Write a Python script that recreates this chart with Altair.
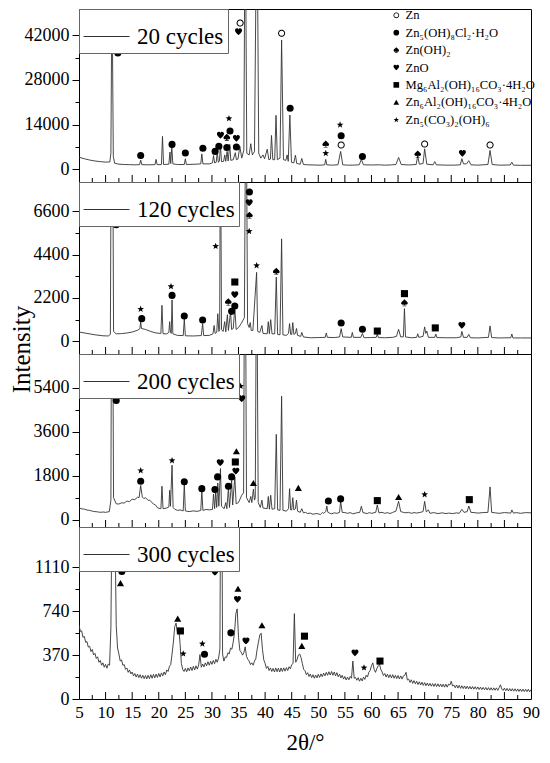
import math
import altair as alt
import pandas as pd

FONT = "Liberation Serif"
LINE = "#333333"

# ---------------- data ----------------
CYCLES = ["20 cycles", "120 cycles", "200 cycles", "300 cycles"]
PHASE_CODES = ["Zn", "S", "H", "O", "Mg", "ZA", "C"]
PHASE_NAMES = ["Zn", "Zn₅(OH)₈Cl₂·H₂O", "Zn(OH)₂", "ZnO",
               "Mg₆Al₂(OH)₁₆CO₃·4H₂O", "Zn₆Al₂(OH)₁₆CO₃·4H₂O", "Zn₅(CO₃)₂(OH)₆"]

Y_DOMAINS = [[-3980, 50200], [-645, 8088], [-299, 6777], [0, 1451]]
Y_STEPS = [14000, 2200, 1800, 370]
Y_TICKS = [
    [0, 7000, 14000, 21000, 28000, 35000, 42000],
    [0, 1100, 2200, 3300, 4400, 5500, 6600],
    [0, 900, 1800, 2700, 3600, 4500, 5400],
    [0, 185, 370, 555, 740, 925, 1110],
]
X_LABELS = [5, 10, 15, 20, 25, 30, 35, 40, 45, 50, 55, 60, 65, 70, 75, 80, 85, 90]
X_MAJOR = [10, 15, 20, 25, 30, 35, 40, 45, 50, 55, 60, 65, 70, 75, 80, 85]
X_MINOR = [7.5, 12.5, 17.5, 22.5, 27.5, 32.5, 37.5, 42.5, 47.5, 52.5, 57.5,
           62.5, 67.5, 72.5, 77.5, 82.5, 87.5]

P20 = [(5.0, 3800), (6.0, 3300), (7.0, 2900), (8.0, 2600), (9.0, 2400), (10.0, 2250),
       (10.8, 2300), (11.0, 5000), (11.2, 60000), (11.45, 4000), (11.7, 1900), (12.5, 1600),
       (13.5, 1500), (14.5, 1450), (15.5, 1400), (16.4, 1450), (16.6, 2900), (16.8, 1450),
       (18.0, 1400), (19.3, 1450), (19.5, 3100), (19.7, 1450), (20.5, 1500), (20.7, 10300),
       (20.9, 1500), (21.9, 1600), (22.1, 5400), (22.25, 1800), (22.45, 7000), (22.65, 1700),
       (23.5, 1500), (24.8, 1500), (25.0, 3300), (25.2, 1500), (27.0, 1600), (27.9, 1700),
       (28.1, 4800), (28.3, 1700), (29.5, 1700), (30.1, 2000), (30.3, 4300), (30.5, 2000),
       (30.8, 2200), (31.0, 5400), (31.2, 2200), (31.4, 2500), (31.6, 7600), (31.8, 2400),
       (32.2, 2500), (32.4, 4500), (32.6, 2500), (32.85, 5600), (33.05, 2600), (33.35, 7800),
       (33.55, 2800), (34.0, 3000), (34.4, 5200), (34.6, 3000), (34.9, 3200), (35.25, 7200),
       (35.6, 3500), (36.0, 6000), (36.25, 90000), (36.55, 5000), (37.0, 4500), (37.3, 8000),
       (37.6, 4500), (38.0, 5500), (38.45, 90000), (38.8, 5000), (39.2, 3500), (39.6, 4500),
       (39.9, 3300), (40.4, 6300), (40.7, 3000), (41.0, 3200), (41.2, 10600), (41.45, 3000),
       (41.8, 3000), (42.05, 16900), (42.3, 3000), (42.8, 3500), (43.1, 40500), (43.45, 3000),
       (43.9, 2800), (44.15, 4500), (44.35, 2500), (44.65, 17000), (44.95, 2200), (45.4, 2000),
       (45.7, 4400), (45.95, 1800), (46.6, 1600), (46.9, 3400), (47.2, 1500), (48.0, 1400),
       (49.0, 1350), (50.5, 1300), (51.2, 1400), (51.4, 3100), (51.6, 1400), (52.5, 1300),
       (53.7, 1400), (54.2, 5600), (54.6, 1400), (55.5, 1300), (56.5, 1300), (57.7, 1400),
       (58.1, 3100), (58.5, 1400), (60.0, 1350), (61.5, 1400), (62.5, 1300), (63.5, 1350),
       (64.6, 1500), (65.1, 3700), (65.6, 1500), (67.0, 1350), (68.4, 1500), (68.7, 4100),
       (69.0, 1600), (69.7, 1800), (70.0, 6400), (70.4, 1600), (71.6, 1400), (71.9, 2400),
       (72.2, 1400), (74.0, 1300), (75.5, 1300), (76.7, 1400), (77.0, 3300), (77.3, 1700),
       (77.9, 1700), (78.3, 2700), (78.7, 1400), (80.0, 1300), (81.9, 1500), (82.3, 5900),
       (82.7, 1500), (84.0, 1300), (86.1, 1350), (86.4, 2200), (86.7, 1300), (88.0, 1250),
       (90.0, 1250)]

P120 = [(5.0, 470), (6.5, 400), (8.0, 330), (9.5, 280), (10.5, 270), (10.9, 350), (11.2, 20000),
        (11.5, 500), (12.0, 380), (13.0, 390), (14.0, 420), (15.0, 470), (16.0, 560), (16.45, 640),
        (16.6, 980), (16.75, 650), (17.5, 600), (18.5, 500), (19.5, 420), (20.4, 400), (20.6, 1830),
        (20.8, 380), (21.5, 380), (21.9, 450), (22.05, 1000), (22.2, 450), (22.35, 400), (22.5, 2100),
        (22.65, 380), (23.5, 300), (24.6, 290), (24.8, 1130), (25.0, 280), (26.5, 270), (28.0, 290),
        (28.25, 900), (28.45, 290), (29.5, 300), (30.2, 380), (30.4, 800), (30.6, 400), (30.9, 450),
        (31.1, 1400), (31.3, 500), (31.45, 600), (31.6, 12000), (31.8, 600), (32.1, 500), (32.4, 1000),
        (32.6, 480), (32.9, 1350), (33.1, 550), (33.5, 1500), (33.7, 600), (34.0, 650), (34.3, 1700),
        (34.55, 600), (35.0, 700), (35.5, 900), (36.1, 1200), (36.4, 15000), (36.7, 900), (37.0, 700),
        (37.2, 950), (37.4, 550), (37.7, 550), (38.4, 3500), (38.6, 500), (39.0, 450), (39.4, 800),
        (39.6, 400), (40.4, 380), (40.6, 1000), (40.8, 380), (41.05, 1100), (41.3, 380), (41.8, 380),
        (42.1, 3260), (42.35, 350), (42.8, 330), (43.1, 5200), (43.35, 330), (44.0, 300), (44.4, 400),
        (44.6, 900), (44.8, 350), (45.0, 350), (45.2, 950), (45.4, 350), (45.7, 400), (45.9, 650),
        (46.1, 300), (46.7, 250), (46.9, 450), (47.2, 220), (48.5, 180), (50.0, 190), (51.3, 200),
        (51.5, 420), (51.7, 200), (53.0, 190), (54.0, 220), (54.3, 640), (54.6, 220), (56.2, 200),
        (56.4, 450), (56.6, 200), (58.0, 200), (58.3, 400), (58.6, 180), (59.8, 190), (60.9, 200),
        (61.1, 380), (61.3, 190), (62.5, 180), (64.0, 200), (64.7, 250), (65.1, 610), (65.5, 220),
        (66.0, 230), (66.2, 1660), (66.4, 220), (67.5, 180), (68.5, 200), (68.7, 380), (68.9, 200),
        (69.7, 250), (70.0, 730), (70.2, 400), (70.4, 520), (70.7, 200), (71.9, 200), (72.1, 370),
        (72.3, 190), (74.0, 180), (76.0, 180), (76.8, 220), (77.0, 500), (77.3, 200), (78.0, 200),
        (78.3, 350), (78.6, 180), (80.0, 170), (82.0, 200), (82.3, 780), (82.6, 190), (84.0, 170),
        (86.2, 180), (86.4, 370), (86.6, 170), (88.0, 170), (90.0, 170)]

P200 = [(5.0, 480), (5.6, 440), (6.0, 430), (6.5, 395), (7.0, 380), (7.5, 350), (8.0, 330),
        (8.5, 320), (9.0, 300), (9.5, 315), (10.0, 300), (10.7, 330),
        (11.0, 800), (11.2, 15000), (11.5, 900), (12.0, 650), (12.5, 640), (13.0, 690), (13.5, 680),
        (14.0, 760), (14.5, 740), (15.0, 840), (15.5, 820), (16.0, 920), (16.3, 900), (16.6, 1400),
        (16.9, 930), (17.2, 860), (17.5, 900), (18.0, 790), (18.3, 800), (19.0, 640),
        (19.4, 600), (19.8, 480), (20.4, 450), (20.6, 1370), (20.8, 450), (21.5, 480), (21.9, 520),
        (22.05, 1200), (22.2, 550), (22.5, 2230), (22.7, 500), (23.0, 430), (23.5, 380), (24.0, 400),
        (24.6, 360), (24.8, 1470), (25.0, 360), (25.7, 330), (26.5, 360), (27.2, 340), (27.9, 380),
        (28.1, 1200), (28.3, 380), (28.9, 420), (29.5, 400), (30.1, 420), (30.3, 1050),
        (30.5, 450), (30.7, 1100), (30.9, 500), (31.1, 1500), (31.3, 550), (31.6, 2090), (31.8, 550),
        (32.3, 450), (32.6, 700), (32.8, 450), (33.1, 1300), (33.3, 500), (33.7, 1600), (33.9, 600),
        (34.3, 1750), (34.55, 650), (35.0, 700), (35.6, 1000), (35.95, 1100), (36.2, 15000),
        (36.5, 900), (37.0, 700), (37.3, 950), (37.5, 700), (37.8, 1250), (38.0, 800), (38.15, 900),
        (38.4, 12000), (38.7, 700), (39.1, 500), (39.4, 800), (39.6, 480), (40.4, 450), (40.6, 950),
        (40.8, 430), (41.05, 1000), (41.3, 430), (41.8, 450), (42.1, 3490), (42.35, 400), (42.8, 380),
        (43.1, 5050), (43.35, 380), (44.0, 350), (44.4, 450), (44.6, 1270), (44.8, 400), (45.0, 400),
        (45.2, 900), (45.4, 400), (45.7, 450), (45.9, 800), (46.1, 350), (46.6, 300), (46.9, 450),
        (47.2, 280), (47.6, 300), (48.0, 250), (48.5, 270), (49.0, 220), (49.5, 250), (50.0, 240),
        (50.4, 210), (50.8, 300), (51.0, 260), (51.4, 330), (51.6, 560), (51.8, 300), (52.1, 270),
        (52.5, 240), (53.0, 280), (53.5, 260), (54.0, 300), (54.2, 750), (54.5, 300),
        (55.0, 290), (55.5, 260), (56.0, 290), (56.5, 240), (57.2, 280), (57.8, 300), (58.1, 550),
        (58.4, 290), (58.8, 270), (59.2, 250), (59.6, 290), (60.0, 260),
        (60.8, 300), (61.1, 600), (61.4, 280), (62.0, 300), (62.5, 260), (63.0, 290), (63.5, 250),
        (64.0, 300), (64.6, 350), (65.1, 750), (65.5, 330), (66.0, 300), (66.5, 280), (67.0, 300),
        (67.5, 260), (68.0, 290), (68.5, 270), (69.2, 300), (69.7, 330), (70.0, 750), (70.3, 320),
        (70.7, 400), (71.0, 260), (71.7, 290), (72.5, 250), (73.3, 280), (74.0, 250), (74.5, 270),
        (75.3, 250), (76.0, 280), (76.5, 260), (77.0, 420), (77.4, 300),
        (78.0, 330), (78.3, 560), (78.7, 300), (79.3, 290), (80.0, 270), (81.0, 290), (81.9, 300),
        (82.3, 1340), (82.6, 300), (83.3, 280), (84.0, 260), (85.0, 290), (86.2, 270), (86.4, 400),
        (86.7, 270), (87.3, 290), (88.0, 260), (89.0, 290), (90.0, 280)]

P300 = [(5.00, 625), (5.25, 570), (5.50, 575), (5.75, 520), (6.00, 528), (6.25, 478), (6.50, 485),
        (6.75, 438), (7.00, 445), (7.25, 400), (7.50, 418), (7.75, 372), (8.00, 385), (8.25, 342),
        (8.50, 356), (8.75, 310), (9.00, 325), (9.25, 285), (9.50, 305), (9.75, 268), (10.00, 292),
        (10.25, 260), (10.50, 295), (10.75, 285), (11.00, 600), (11.25, 1800), (11.50, 3500),
        (11.75, 1500), (12.00, 620), (12.25, 430), (12.50, 380), (12.75, 320), (13.00, 330),
        (13.25, 285), (13.50, 290), (13.75, 250), (14.00, 262), (14.25, 225), (14.50, 245),
        (14.75, 212), (15.00, 228), (15.25, 195), (15.50, 215), (15.75, 185), (16.00, 210),
        (16.25, 180), (16.50, 205), (16.75, 175), (17.00, 200), (17.25, 172), (17.50, 198),
        (17.75, 170), (18.00, 200), (18.25, 172), (18.50, 205), (18.75, 175), (19.00, 208),
        (19.25, 178), (19.50, 210), (19.75, 182), (20.00, 215), (20.25, 186), (20.50, 220),
        (20.75, 195), (21.00, 228), (21.25, 205), (21.50, 245), (21.75, 232), (22.00, 275),
        (22.25, 290), (22.50, 380), (22.75, 480), (23.00, 610), (23.25, 640), (23.50, 560),
        (23.75, 600), (24.00, 470), (24.25, 300), (24.50, 250), (24.75, 232), (25.00, 258),
        (25.25, 230), (25.50, 262), (25.75, 238), (26.00, 270), (26.25, 240), (26.50, 275),
        (26.75, 245), (27.00, 280), (27.25, 252), (27.50, 285), (27.75, 375), (28.00, 268),
        (28.25, 295), (28.50, 270), (28.75, 305), (29.00, 280), (29.25, 315), (29.50, 285),
        (29.75, 318), (30.00, 292), (30.25, 325), (30.50, 298), (30.75, 335), (31.00, 310),
        (31.25, 345), (31.50, 420), (31.75, 3000), (32.00, 380), (32.25, 320), (32.50, 355),
        (32.75, 350), (33.00, 390), (33.25, 380), (33.50, 430), (33.75, 420), (34.00, 480),
        (34.25, 560), (34.50, 720), (34.75, 760), (35.00, 520), (35.25, 410), (35.50, 395),
        (35.75, 370), (36.00, 390), (36.25, 440), (36.50, 360), (36.75, 335), (37.00, 320),
        (37.25, 290), (37.50, 305), (37.75, 285), (38.00, 320), (38.25, 340), (38.50, 420),
        (38.75, 480), (39.00, 540), (39.25, 555), (39.50, 420), (39.75, 330), (40.00, 300),
        (40.25, 258), (40.50, 275), (40.75, 240), (41.00, 262), (41.25, 232), (41.50, 258),
        (41.75, 228), (42.00, 262), (42.25, 230), (42.50, 260), (42.75, 228), (43.00, 262),
        (43.25, 232), (43.50, 262), (43.75, 235), (44.00, 265), (44.25, 240), (44.50, 272),
        (44.75, 255), (45.00, 290), (45.25, 300), (45.50, 720), (45.75, 310), (46.00, 330),
        (46.25, 370), (46.50, 380), (46.75, 350), (47.00, 300), (47.25, 250), (47.50, 238),
        (47.75, 205), (48.00, 222), (48.25, 190), (48.50, 210), (48.75, 180), (49.00, 205),
        (49.25, 175), (49.50, 202), (49.75, 178), (50.00, 208), (50.25, 182), (50.50, 212),
        (50.75, 188), (51.00, 218), (51.25, 195), (51.50, 225), (51.75, 200), (52.00, 230),
        (52.25, 202), (52.50, 232), (52.75, 200), (53.00, 228), (53.25, 195), (53.50, 222),
        (53.75, 188), (54.00, 210), (54.25, 178), (54.50, 200), (54.75, 168), (55.00, 190),
        (55.25, 160), (55.50, 185), (55.75, 162), (56.00, 190), (56.25, 175), (56.50, 320),
        (56.75, 175), (57.00, 182), (57.25, 158), (57.50, 180), (57.75, 150), (58.00, 175),
        (58.25, 152), (58.50, 185), (58.75, 165), (59.00, 200), (59.25, 185), (59.50, 225),
        (59.75, 240), (60.00, 280), (60.25, 305), (60.50, 250), (60.75, 225), (61.00, 255),
        (61.25, 280), (61.50, 295), (61.75, 250), (62.00, 228), (62.25, 198), (62.50, 215),
        (62.75, 185), (63.00, 210), (63.25, 180), (63.50, 205), (63.75, 178), (64.00, 205),
        (64.25, 175), (64.50, 200), (64.75, 172), (65.00, 198), (65.25, 170), (65.50, 195),
        (65.75, 168), (66.00, 195), (66.25, 200), (66.50, 225), (66.75, 160), (67.00, 168),
        (67.25, 140), (67.50, 162), (67.75, 132), (68.00, 155), (68.25, 128), (68.50, 150),
        (68.75, 122), (69.00, 145), (69.25, 118), (69.50, 142), (69.75, 115), (70.00, 138),
        (70.25, 112), (70.50, 135), (70.75, 110), (71.00, 132), (71.25, 108), (71.50, 130),
        (71.75, 106), (72.00, 130), (72.25, 105), (72.50, 128), (72.75, 104), (73.00, 126),
        (73.25, 102), (73.50, 125), (73.75, 100), (74.00, 125), (74.25, 100), (74.50, 125),
        (74.75, 118), (75.00, 150), (75.25, 110), (75.50, 118), (75.75, 95), (76.00, 118),
        (76.25, 92), (76.50, 115), (76.75, 90), (77.00, 112), (77.25, 88), (77.50, 110),
        (77.75, 86), (78.00, 108), (78.25, 85), (78.50, 106), (78.75, 84), (79.00, 105),
        (79.25, 83), (79.50, 104), (79.75, 82), (80.00, 102), (80.25, 80), (80.50, 100),
        (80.75, 79), (81.00, 98), (81.25, 78), (81.50, 97), (81.75, 76), (82.00, 96),
        (82.25, 75), (82.50, 95), (82.75, 74), (83.00, 94), (83.25, 74), (83.50, 94),
        (83.75, 73), (84.00, 95), (84.25, 120), (84.50, 85), (84.75, 72), (85.00, 92),
        (85.25, 70), (85.50, 90), (85.75, 68), (86.00, 88), (86.25, 67), (86.50, 87),
        (86.75, 66), (87.00, 86), (87.25, 65), (87.50, 85), (87.75, 64), (88.00, 84),
        (88.25, 63), (88.50, 83), (88.75, 62), (89.00, 82), (89.25, 62), (89.50, 82),
        (89.75, 61), (90.00, 80)]

M20 = [("S", 12.3, 36400), ("S", 16.6, 4300), ("S", 22.5, 7800), ("S", 25.0, 5100),
       ("S", 28.3, 6600), ("S", 30.6, 5600), ("S", 31.3, 7200), ("O", 31.6, 10700),
       ("H", 32.8, 10000), ("S", 32.8, 6800), ("S", 33.4, 12000), ("C", 33.2, 16000),
       ("O", 34.6, 9700), ("S", 34.6, 7000), ("Zn", 35.3, 45800), ("O", 35.0, 43100),
       ("Zn", 43.1, 42600), ("S", 44.7, 19100), ("H", 51.4, 7900), ("C", 51.4, 5100),
       ("C", 54.1, 14000), ("S", 54.3, 10500), ("Zn", 54.3, 7600), ("S", 58.3, 4000),
       ("H", 68.7, 4800), ("Zn", 70.0, 7900), ("O", 77.1, 5000), ("Zn", 82.3, 7600)]

M120 = [("S", 12.0, 5920), ("C", 16.6, 1650), ("S", 16.8, 1150), ("C", 22.3, 2800),
        ("S", 22.5, 2330), ("S", 24.8, 1280), ("S", 28.25, 1080), ("C", 30.7, 4840),
        ("H", 33.07, 2000), ("S", 33.7, 1520), ("Mg", 34.3, 3010), ("O", 34.3, 2370),
        ("S", 34.3, 1790), ("S", 37.05, 7580), ("O", 37.0, 7040), ("H", 37.05, 6400),
        ("C", 37.0, 5600), ("C", 38.4, 3860), ("H", 42.1, 3550), ("S", 54.3, 930),
        ("S", 58.3, 610), ("Mg", 61.1, 520), ("H", 66.2, 1960), ("Mg", 66.2, 2420),
        ("Mg", 72.0, 680), ("O", 77.0, 810)]

M200 = [("S", 12.0, 4880), ("C", 16.6, 2020), ("S", 16.6, 1570), ("C", 22.5, 2430),
        ("S", 24.8, 1550), ("S", 28.1, 1270), ("S", 30.56, 1230), ("S", 31.06, 1750),
        ("O", 31.56, 2330), ("S", 33.1, 1370), ("S", 33.7, 1750), ("O", 34.5, 1990),
        ("Mg", 34.4, 2360), ("ZA", 34.6, 2800), ("C", 35.4, 5470), ("O", 35.6, 4950),
        ("ZA", 37.8, 1500), ("ZA", 46.25, 1300), ("S", 51.9, 765), ("S", 54.2, 850),
        ("Mg", 61.1, 780), ("ZA", 65.1, 930), ("C", 70.0, 1040), ("Mg", 78.4, 820)]

M300 = [("S", 13.06, 1076), ("ZA", 12.8, 978), ("ZA", 23.56, 678), ("Mg", 24.07, 574),
        ("C", 24.6, 384), ("C", 28.2, 468), ("S", 28.6, 378), ("O", 30.56, 1070),
        ("S", 33.56, 558), ("O", 34.8, 841), ("ZA", 34.9, 930), ("O", 36.4, 490),
        ("ZA", 39.4, 622), ("Mg", 47.4, 530), ("ZA", 46.9, 448), ("O", 56.9, 390),
        ("C", 58.6, 266), ("Mg", 61.6, 320)]

PROFILES = [P20, P120, P200, P300]
MARKERS = [M20, M120, M200, M300]
HEIGHTS = [173, 172, 173, 172]
PLOT_W = 452


# ---------------- marker glyph paths (style) ----------------
def _poly(pts):
    return "M" + "L".join(f"{x:.3f},{y:.3f}" for x, y in pts) + "Z"


_N = 32
RING = (_poly([(math.cos(2 * math.pi * k / _N), math.sin(2 * math.pi * k / _N)) for k in range(_N)])
        + _poly([(0.72 * math.cos(-2 * math.pi * k / _N), 0.72 * math.sin(-2 * math.pi * k / _N))
                 for k in range(_N)]))
STAR = _poly([((1.0 if k % 2 == 0 else 0.42) * math.cos(-math.pi / 2 + k * math.pi / 5),
               (1.0 if k % 2 == 0 else 0.42) * math.sin(-math.pi / 2 + k * math.pi / 5) + 0.08)
              for k in range(10)])
HEART = ("M0,0.95C-0.35,0.6,-1,0.2,-1,-0.35C-1,-0.75,-0.7,-0.95,-0.45,-0.95"
         "C-0.2,-0.95,-0.05,-0.8,0,-0.6C0.05,-0.8,0.2,-0.95,0.45,-0.95"
         "C0.7,-0.95,1,-0.75,1,-0.35C1,0.2,0.35,0.6,0,0.95Z")
SPADE = ("M0,-1C-0.3,-0.6,-0.95,-0.3,-0.95,0.1C-0.95,0.4,-0.7,0.55,-0.45,0.55"
         "C-0.25,0.55,-0.1,0.45,-0.05,0.35L-0.3,0.72L0.3,0.72L0.05,0.35"
         "C0.1,0.45,0.25,0.55,0.45,0.55C0.7,0.55,0.95,0.4,0.95,0.1C0.95,-0.3,0.3,-0.6,0,-1Z"
         "M-0.55,0.85L0.55,0.85L0.55,1L-0.55,1Z")
SHAPES = [RING, "circle", SPADE, HEART, "square", "triangle-up", STAR]


def panel(i):
    name = CYCLES[i]
    h = HEIGHTS[i]
    bottom = i == 3
    df = pd.DataFrame(PROFILES[i], columns=["tt", "I"])
    df["series"] = name
    dm = pd.DataFrame(MARKERS[i], columns=["code", "tt", "I"])
    dm["phase"] = dm["code"].map(dict(zip(PHASE_CODES, PHASE_NAMES)))

    xs = alt.Scale(domain=[5, 90], nice=False, zero=False)
    ys = alt.Scale(domain=Y_DOMAINS[i], nice=False, zero=False)
    step = Y_STEPS[i]
    if bottom:
        xa = alt.Axis(values=X_LABELS, ticks=False, tickSize=0, domain=False, grid=False,
                      labelFont=FONT, labelFontSize=17, labelColor="black",
                      labelPadding=5, labelFlush=False, title="2θ/°",
                      titleFont=FONT, titleFontSize=23, titleFontWeight="normal",
                      titleColor="black", titlePadding=11)
    else:
        xa = None
    ykw = dict(values=Y_TICKS[i], format="d",
               labelExpr=f"datum.value % {step} === 0 ? datum.label : ''",
               tickSize={"condition": {"test": f"datum.value % {step} === 0", "value": 7},
                         "value": 4},
               tickColor="black", tickWidth=1, domain=False, grid=False,
               labelFont=FONT, labelFontSize=18, labelColor="black", labelPadding=3)
    if i == 2:
        ykw.update(title="Intensity", titleFont=FONT, titleFontSize=25,
                   titleFontWeight="normal", titleColor="black", titleX=-50, titleY=-5,
                   titleAngle=270, titleAlign="center", titleBaseline="alphabetic")
    else:
        ykw.update(title=None)
    ya = alt.Axis(**ykw)

    cyc_legend = alt.Legend(title=None, orient="top-left", offset=0, padding=4,
                            fillColor="white", strokeColor="#666666", symbolType="stroke",
                            symbolSize=2116, symbolStrokeWidth=1, labelFont=FONT,
                            labelFontSize=23, labelColor="black", labelOffset=7,
                            cornerRadius=0)
    line = alt.Chart(df).mark_line(clip=True, strokeWidth=0.9).encode(
        x=alt.X("tt:Q", scale=xs, axis=xa),
        y=alt.Y("I:Q", scale=ys, axis=ya),
        color=alt.Color("series:N", scale=alt.Scale(domain=[name], range=[LINE]),
                        legend=cyc_legend),
    )
    tmaj = alt.Chart(pd.DataFrame({"tt": X_MAJOR})).mark_rule(color="black", strokeWidth=1).encode(
        x=alt.X("tt:Q", scale=xs, axis=xa), y=alt.value(h), y2=alt.value(h - 7))
    tmin = alt.Chart(pd.DataFrame({"tt": X_MINOR})).mark_rule(color="black", strokeWidth=1).encode(
        x=alt.X("tt:Q", scale=xs, axis=xa), y=alt.value(h), y2=alt.value(h - 4))

    if i == 0:
        ph_legend = alt.Legend(title=None, orient="none", legendX=311, legendY=0, padding=0,
                               labelFont=FONT, labelFontSize=12.6, labelColor="black",
                               labelOffset=3, rowPadding=4.4, symbolFillColor="black",
                               symbolStrokeColor="black", symbolStrokeWidth=0,
                               symbolSize=32, labelLimit=300)
    else:
        ph_legend = None
    pts = alt.Chart(dm).mark_point(filled=True, opacity=1, color="black", size=50,
                                   clip=True).encode(
        x=alt.X("tt:Q", scale=xs, axis=xa),
        y=alt.Y("I:Q", scale=ys, axis=ya),
        shape=alt.Shape("phase:N", scale=alt.Scale(domain=PHASE_NAMES, range=SHAPES),
                        legend=ph_legend),
    )
    return alt.layer(line, tmaj, tmin, pts).properties(width=PLOT_W, height=h)


chart = alt.vconcat(*[panel(i) for i in range(4)], spacing=0, bounds="flush").resolve_scale(
    x="independent", y="independent", color="independent", shape="independent"
).resolve_legend(color="independent", shape="independent").configure_view(
    stroke="black", strokeWidth=1
).properties(padding={"left": 0, "top": 0, "right": 0, "bottom": 0}, background="white")

chart.save("out.html", embed_options={"renderer": "svg", "actions": False})
